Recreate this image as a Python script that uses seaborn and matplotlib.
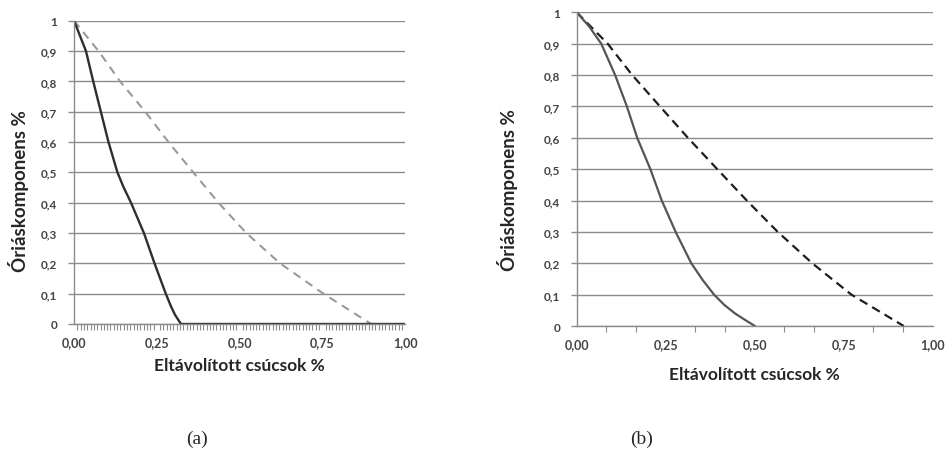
import numpy as np
import matplotlib
matplotlib.use("Agg")
import matplotlib.pyplot as plt
import seaborn as sns

# (a) panel
a_solid_x = [0, 0.018, 0.036, 0.058, 0.081, 0.104, 0.131, 0.150, 0.172, 0.211, 0.243, 0.277, 0.292, 0.305, 0.323, 1.0]
a_solid_y = [1.0, 0.95, 0.9, 0.8, 0.7, 0.6, 0.5, 0.45, 0.4, 0.3, 0.2, 0.1, 0.06, 0.03, 0.0, 0.0]
a_dash_x = [0, 0.074, 0.139, 0.215, 0.285, 0.360, 0.436, 0.520, 0.622, 0.753, 0.897]
a_dash_y = [1.0, 0.9, 0.8, 0.7, 0.6, 0.5, 0.4, 0.3, 0.2, 0.1, 0.0]

# (b) panel
b_solid_x = [0, 0.035, 0.069, 0.108, 0.141, 0.170, 0.207, 0.239, 0.278, 0.322, 0.355, 0.386, 0.415, 0.445, 0.475, 0.501]
b_solid_y = [1.0, 0.955, 0.9, 0.8, 0.7, 0.6, 0.5, 0.4, 0.3, 0.2, 0.145, 0.1, 0.067, 0.04, 0.018, 0.0]
b_dash_x = [0, 0.087, 0.156, 0.234, 0.3125, 0.395, 0.478, 0.565, 0.662, 0.772, 0.919]
b_dash_y = [1.0, 0.9, 0.8, 0.7, 0.6, 0.5, 0.4, 0.3, 0.2, 0.1, 0.0]

y_ticks = [0, 0.1, 0.2, 0.3, 0.4, 0.5, 0.6, 0.7, 0.8, 0.9, 1.0]
y_labels = ["0", "0,1", "0,2", "0,3", "0,4", "0,5", "0,6", "0,7", "0,8", "0,9", "1"]
x_ticks = [0, 0.25, 0.5, 0.75, 1.0]
x_labels = ["0,00", "0,25", "0,50", "0,75", "1,00"]

xlabel = "Eltávolított csúcsok %"
ylabel = "Óriáskomponens %"

sns.set_theme(style="white")
plt.rcParams['font.family'] = ['Lato', 'DejaVu Sans']

fig = plt.figure(figsize=(9.49, 4.52), dpi=100)
ax1 = fig.add_axes([0.078, 0.281, 0.349, 0.671])
ax2 = fig.add_axes([0.6077, 0.2765, 0.375, 0.694])


def style_axes(ax, minor_n):
    ax.set_xlim(0, 1)
    ax.set_ylim(0, 1)
    ax.set_yticks(y_ticks)
    ax.set_yticklabels(y_labels)
    ax.set_xticks(x_ticks)
    ax.set_xticklabels(x_labels)
    ax.set_xticks(np.linspace(0, 1, minor_n + 1), minor=True)
    ax.grid(axis="y", color="#8c8c8c", lw=1.0)
    ax.grid(axis="x", visible=False)
    ax.set_axisbelow(True)
    for s in ["top", "right"]:
        ax.spines[s].set_visible(False)
    for s in ["left", "bottom"]:
        ax.spines[s].set_color("#8c8c8c")
        ax.spines[s].set_linewidth(1.0)
    ax.tick_params(axis="y", which="major", left=True, length=4, width=1,
                   color="#8c8c8c", labelsize=8.5, labelcolor="#444444", pad=8)
    ax.tick_params(axis="x", which="major", bottom=False, labelsize=9,
                   labelcolor="#444444", pad=3)
    ax.tick_params(axis="x", which="minor", bottom=True, length=4, width=0.8,
                   color="#8c8c8c")
    for lab in ax.get_xticklabels() + ax.get_yticklabels():
        lab.set_fontweight("bold")


sns.lineplot(x=a_dash_x, y=a_dash_y, ax=ax1, color="#9a9a9a", lw=1.5,
             sort=False, estimator=None, linestyle=(0, (4, 3)))
sns.lineplot(x=a_solid_x, y=a_solid_y, ax=ax1, color="#2e2e2e", lw=1.7,
             sort=False, estimator=None)
style_axes(ax1, 100)
ax1.set_xlabel(xlabel, fontsize=12.5, fontweight="bold", labelpad=6)
ax1.set_ylabel(ylabel, fontsize=13.5, fontweight="bold", va="center")
ax1.yaxis.set_label_coords(-0.169, 0.44)

sns.lineplot(x=b_dash_x, y=b_dash_y, ax=ax2, color="#1e1e1e", lw=1.6,
             sort=False, estimator=None, linestyle=(0, (4, 2.5)))
sns.lineplot(x=b_solid_x, y=b_solid_y, ax=ax2, color="#555555", lw=1.6,
             sort=False, estimator=None)
style_axes(ax2, 12)
ax2.set_xlabel(xlabel, fontsize=12.5, fontweight="bold", labelpad=11)
ax2.set_ylabel(ylabel, fontsize=13.5, fontweight="bold", va="center")
ax2.yaxis.set_label_coords(-0.194, 0.436)

fig.text(197 / 949, 1 - 439 / 452, "(a)", fontsize=14, family="Liberation Serif",
         ha="center", va="center")
fig.text(642 / 949, 1 - 439 / 452, "(b)", fontsize=14, family="Liberation Serif",
         ha="center", va="center")

fig.savefig("out.png", dpi=100)
